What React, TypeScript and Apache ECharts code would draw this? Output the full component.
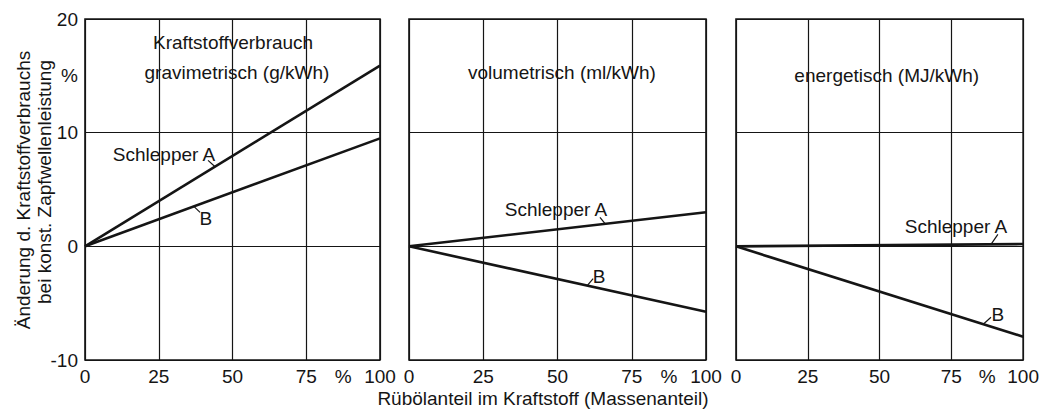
import React, { useEffect, useRef } from "react";
import * as echarts from "echarts";

// ---- data ----
const shares = [0, 100]; // Rübölanteil in %
const gravA = [0, 15.9];
const gravB = [0, 9.5];
const volA = [0, 3.0];
const volB = [0, -5.75];
const enerA = [0, 0.2];
const enerB = [0, -7.95];

const xTicks = [0, 25, 50, 75, 100];
const xPercentAt = 87.5;
const yTicks = [-10, 0, 10, 20];
const yPercentAt = 15;

const panelTitles: [number, number, number, string][] = [
  [0, 50.2, 17.9, "Kraftstoffverbrauch"],
  [0, 51.5, 15.3, "gravimetrisch (g/kWh)"],
  [1, 51.5, 15.3, "volumetrisch (ml/kWh)"],
  [2, 52.5, 15.0, "energetisch (MJ/kWh)"],
];
const curveLabels: [number, number, number, string][] = [
  [0, 26.8, 8.1, "Schlepper A"],
  [0, 41.0, 2.46, "B"],
  [1, 49.5, 3.25, "Schlepper A"],
  [1, 64.0, -2.64, "B"],
  [2, 76.6, 1.76, "Schlepper A"],
  [2, 91.2, -5.98, "B"],
];
const leaders: [number, number, number, number, number][] = [
  [0, 41.7, 7.56, 44.1, 7.0],
  [0, 36.9, 3.52, 39.0, 2.99],
  [1, 64.3, 2.55, 66.0, 2.0],
  [1, 60.0, -3.45, 62.0, -2.85],
  [2, 88.8, 0.18, 91.2, 1.06],
  [2, 86.1, -6.86, 88.8, -6.24],
];

const yTitle1 = "Änderung d. Kraftstoffverbrauchs";
const yTitle2 = "bei konst. Zapfwellenleistung";
const xTitle = "Rübölanteil im Kraftstoff (Massenanteil)";

const INK = "#151515";
const FONT = "Liberation Sans";
const FS = 19;

const gridBoxes = [
  { left: 85, top: 19, width: 295, height: 341 },
  { left: 409, top: 19, width: 297, height: 341 },
  { left: 736, top: 19, width: 295, height: 341 },
];

const seriesData = [
  [gravA, gravB],
  [volA, volB],
  [enerA, enerB],
];

export default function App() {
  const ref = useRef<HTMLDivElement>(null);
  useEffect(() => {
    if (!ref.current) return;
    const chart = echarts.init(ref.current, undefined, { renderer: "svg" });
    const grids = gridBoxes.map((g) => ({
      ...g,
      show: true,
      borderColor: INK,
      borderWidth: 1.6,
      backgroundColor: "transparent",
    }));
    const xAxes = gridBoxes.map((_, i) => ({
      gridIndex: i,
      type: "value",
      min: 0,
      max: 100,
      interval: 25,
      axisLine: { show: false },
      axisTick: { show: false },
      splitLine: { show: true, lineStyle: { color: INK, width: 1.2 } },
      axisLabel: {
        customValues: [...xTicks, xPercentAt],
        formatter: (v: number) => (v === xPercentAt ? "%" : String(v)),
        color: INK,
        fontSize: FS,
        fontFamily: FONT,
        margin: 7,
      },
    }));
    const yAxes = gridBoxes.map((_, i) => ({
      gridIndex: i,
      type: "value",
      min: -10,
      max: 20,
      interval: 10,
      axisLine: { show: false },
      axisTick: { show: false },
      splitLine: { show: true, lineStyle: { color: INK, width: 1.2 } },
      axisLabel: {
        show: i === 0,
        customValues: [...yTicks, yPercentAt],
        formatter: (v: number) => (v === yPercentAt ? "%" : String(v)),
        color: INK,
        fontSize: FS,
        fontFamily: FONT,
        margin: 7,
      },
    }));
    const series: any[] = [];
    seriesData.forEach((pair, i) => {
      pair.forEach((vals) => {
        series.push({
          type: "line",
          xAxisIndex: i,
          yAxisIndex: i,
          data: shares.map((s, k) => [s, vals[k]]),
          showSymbol: false,
          symbol: "none",
          lineStyle: { color: INK, width: 2.6 },
          z: 5,
        });
      });
    });
    chart.setOption({
      animation: false,
      backgroundColor: "#ffffff",
      grid: grids,
      xAxis: xAxes,
      yAxis: yAxes,
      series,
    });

    const txt = (x: number, y: number, text: string, extra: any = {}) => ({
      type: "text",
      x,
      y,
      z: 10,
      style: {
        text,
        fill: INK,
        fontSize: FS,
        fontFamily: FONT,
        align: "center",
        verticalAlign: "middle",
        ...extra,
      },
    });
    const graphic: any[] = [];
    [...panelTitles, ...curveLabels].forEach(([p, x, y, t]) => {
      const [px, py] = chart.convertToPixel({ gridIndex: p }, [x, y]) as number[];
      graphic.push(txt(px, py, t));
    });
    leaders.forEach(([p, x1, y1, x2, y2]) => {
      const [a, b] = chart.convertToPixel({ gridIndex: p }, [x1, y1]) as number[];
      const [c, d] = chart.convertToPixel({ gridIndex: p }, [x2, y2]) as number[];
      graphic.push({
        type: "line",
        z: 10,
        shape: { x1: a, y1: b, x2: c, y2: d },
        style: { stroke: INK, lineWidth: 1.2 },
      });
    });
    graphic.push(txt(543, 398, xTitle));
    graphic.push({ ...txt(23, 190, yTitle1), rotation: Math.PI / 2 });
    graphic.push({ ...txt(44, 182, yTitle2), rotation: Math.PI / 2 });
    chart.setOption({ graphic });

    return () => chart.dispose();
  }, []);
  return (
    <div
      ref={ref}
      style={{ position: "fixed", left: 0, top: 0, width: 1042, height: 410, background: "#fff" }}
    />
  );
}
